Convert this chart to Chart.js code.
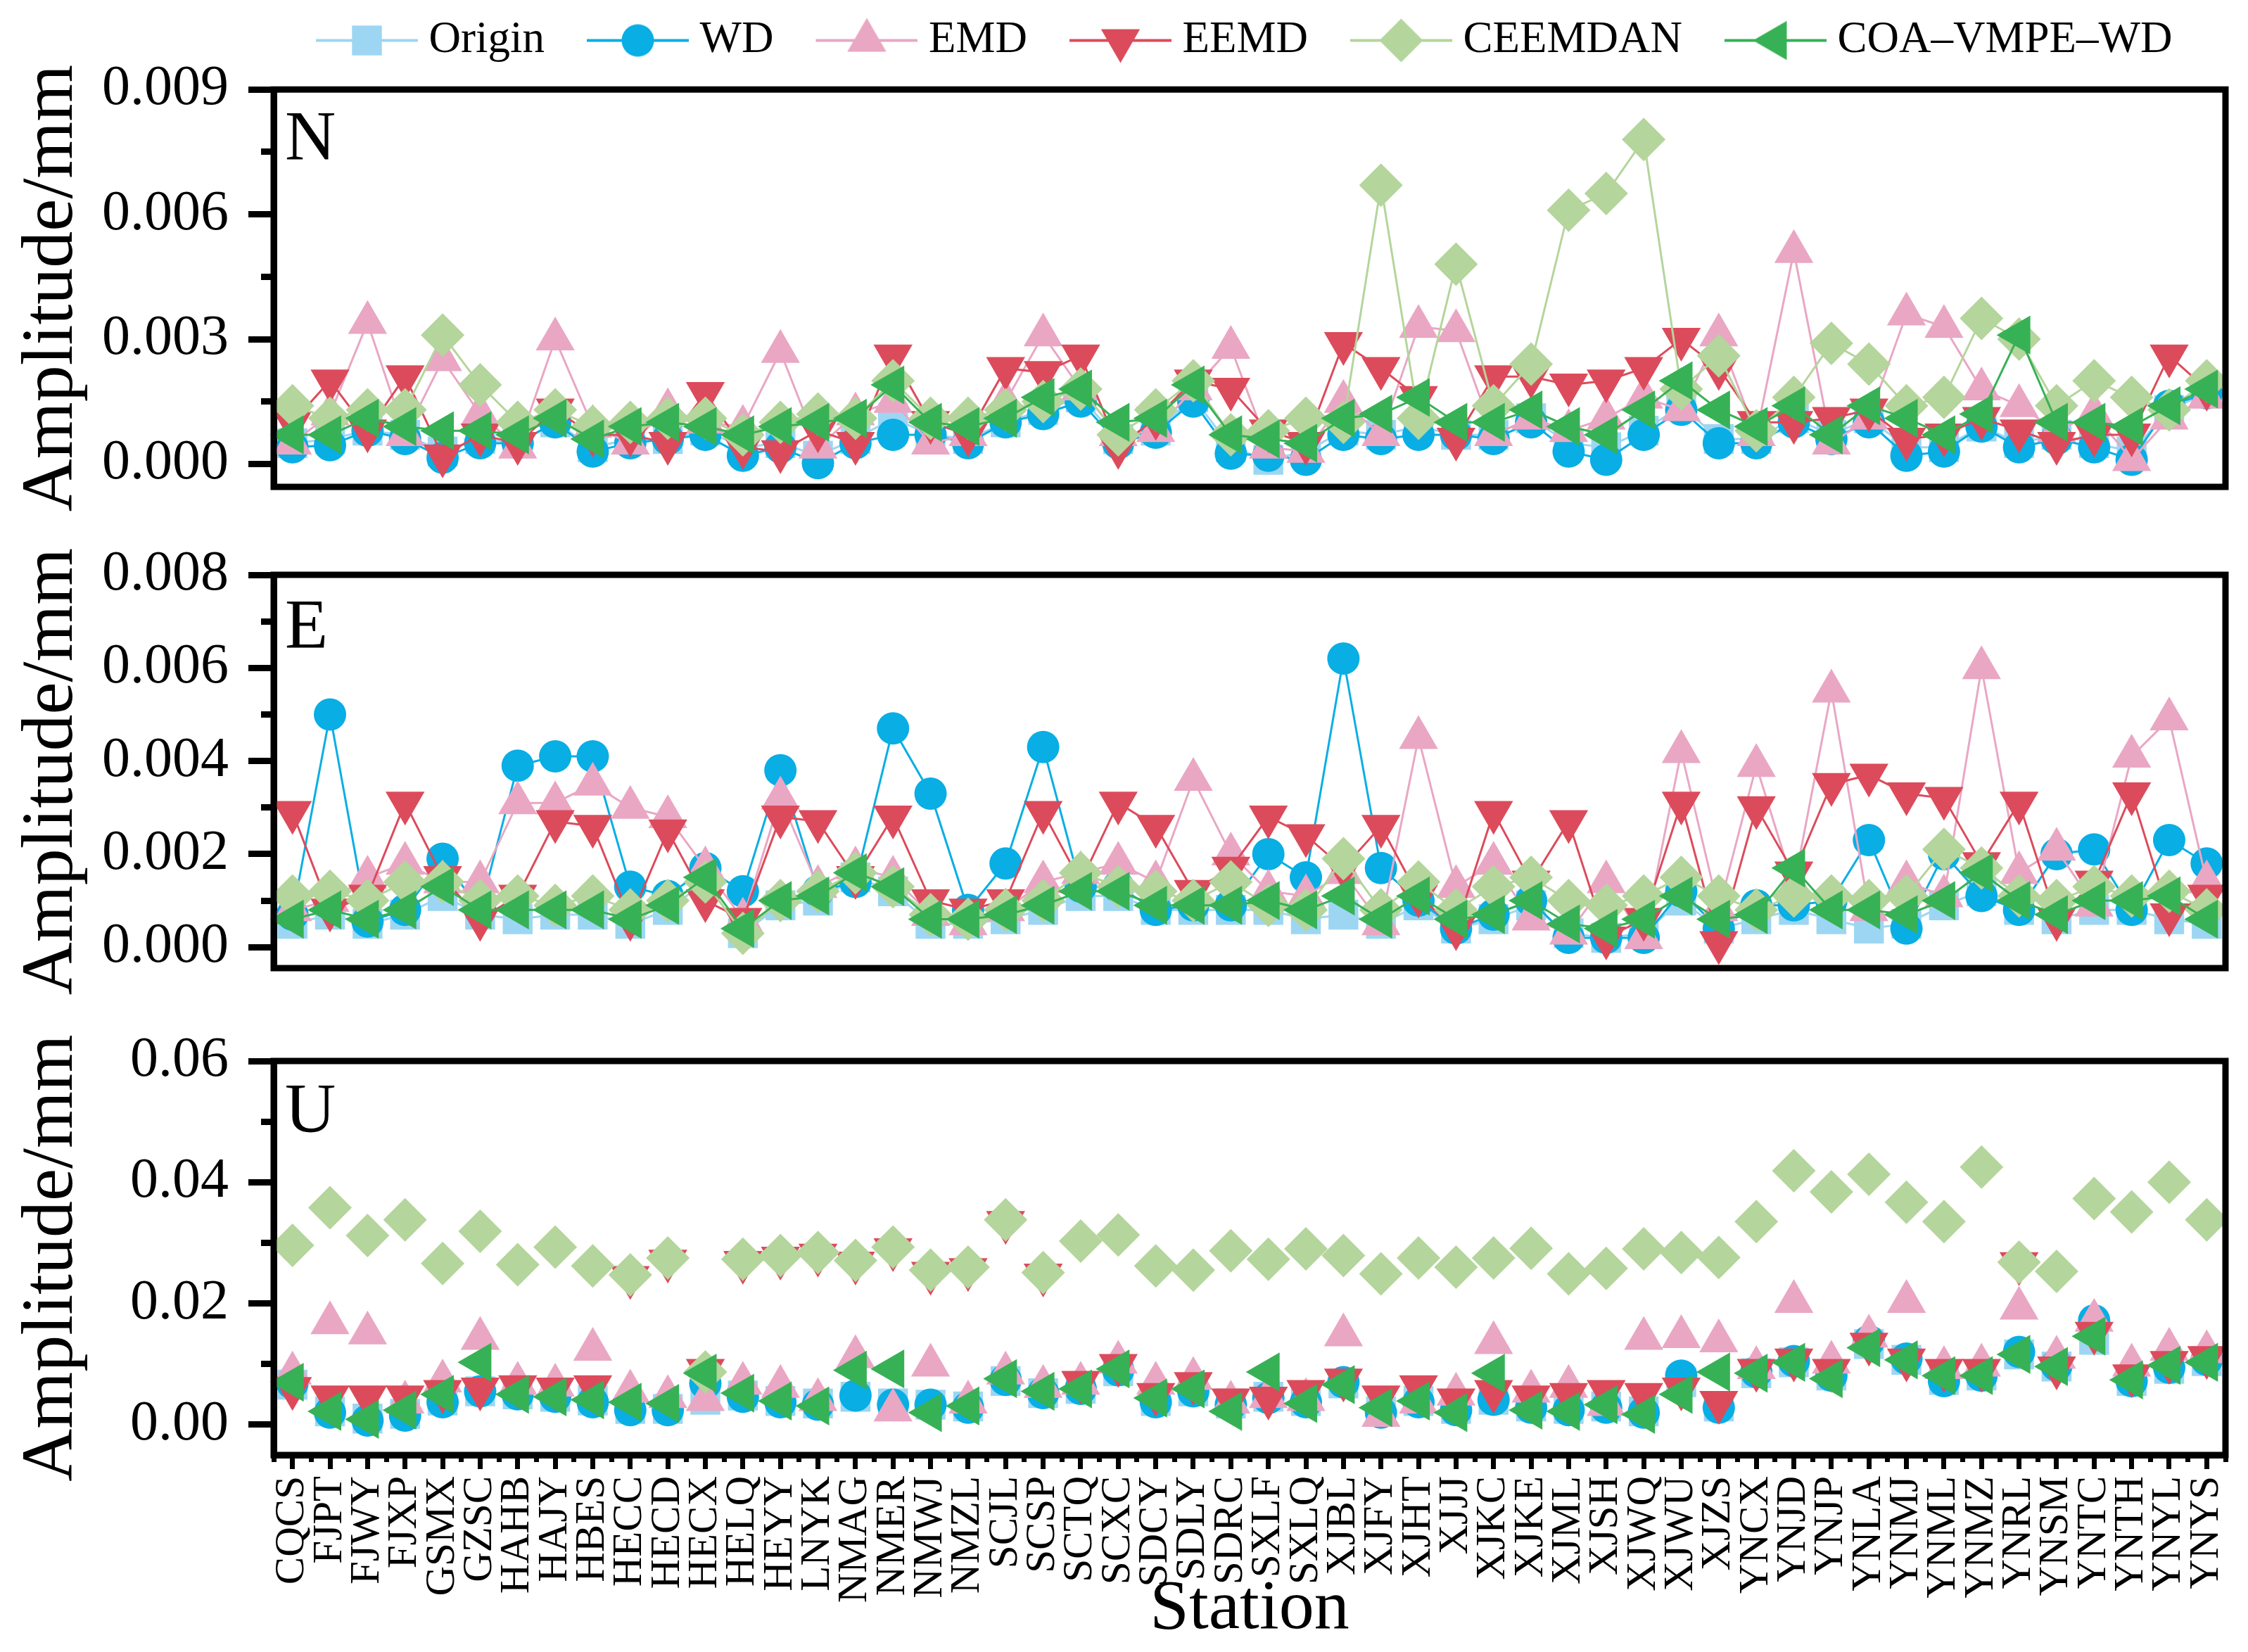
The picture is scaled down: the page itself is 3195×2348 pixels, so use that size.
<!DOCTYPE html>
<html>
<head>
<meta charset="utf-8">
<script src="https://cdn.jsdelivr.net/npm/chart.js@4.4.1/dist/chart.umd.min.js"></script>
<style>
  body { margin: 0; background: #fff; width: 3195px; height: 2348px; overflow: hidden; position: relative; }
  .panel { position: absolute; left: 0; }
  canvas { display: block; }
</style>
</head>
<body>
<div class="panel" style="top:0px"><canvas id="cN" width="3195" height="819"></canvas></div>
<div class="panel" style="top:690px"><canvas id="cE" width="3195" height="813"></canvas></div>
<div class="panel" style="top:1381px"><canvas id="cU" width="3195" height="967"></canvas></div>
<script>
// stations on the x axis
const stations = ['CQCS','FJPT','FJWY','FJXP','GSMX','GZSC','HAHB','HAJY','HBES','HECC','HECD','HECX','HELQ',
  'HEYY','LNYK','NMAG','NMER','NMWJ','NMZL','SCJL','SCSP','SCTQ','SCXC','SDCY','SDLY','SDRC','SXLF','SXLQ',
  'XJBL','XJFY','XJHT','XJJJ','XJKC','XJKE','XJML','XJSH','XJWQ','XJWU','XJZS','YNCX','YNJD','YNJP','YNLA',
  'YNMJ','YNML','YNMZ','YNRL','YNSM','YNTC','YNTH','YNYL','YNYS'];
const seriesNames = ['Origin', 'WD', 'EMD', 'EEMD', 'CEEMDAN', 'COA\u2013VMPE\u2013WD'];

// N component (mm)
const nOrigin = [.0005,.0006,.0008,.0007,.0003,.0006,.0005,.0010,.0004,.0006,.0006,.0008,.0004,.0005,.0002,.0006,.0011,.0007,.0006,.0010,.0013,.0016,.0006,.0008,.0016,.0004,.0001,.0003,.0008,.0007,.0009,.0007,.0007,.0011,.0005,.0004,.0008,.0014,.0006,.0006,.0011,.0007,.0011,.0004,.0004,.0009,.0005,.0007,.0005,.0003,.0013,.0017];
const nWD = [.0004,.00045,.0008,.0006,.00015,.0005,.0005,.0010,.0003,.0005,.0006,.0007,.0002,.0004,.00002,.0005,.0007,.0007,.0005,.0010,.0012,.0015,.0005,.00075,.0015,.00025,.0002,.0001,.0007,.0006,.0007,.0007,.0006,.0010,.0003,.0001,.0007,.0013,.0005,.0005,.0010,.0006,.0010,.0002,.0003,.0009,.0004,.0006,.0004,.0001,.0014,.0017];
const nEMD = [.0005,.0012,.0034,.0007,.0025,.0012,.0004,.0030,.0009,.0005,.0013,.0010,.0009,.0027,.0004,.0012,.0015,.0005,.0007,.0015,.0031,.0018,.0007,.0008,.0018,.0028,.0004,.0003,.0015,.0007,.0033,.0032,.0007,.0011,.0008,.0011,.0016,.0013,.0031,.0007,.0051,.0005,.0011,.0036,.0033,.0018,.0014,.0008,.0012,.0001,.0011,.0016];
const nEEMD = [.0010,.0020,.0008,.0021,.0002,.0007,.0005,.0013,.0007,.0007,.0005,.0017,.0004,.0003,.0008,.0005,.0026,.0010,.0007,.0023,.0022,.0026,.0004,.0011,.0020,.0018,.0008,.0005,.0029,.0023,.0016,.0006,.0021,.0021,.0019,.0020,.0023,.0030,.0023,.0010,.0010,.0011,.0013,.0006,.0007,.0011,.0008,.0005,.0007,.0007,.0026,.0018];
const nCEEMDAN = [.0014,.0011,.0013,.0013,.0031,.0019,.0010,.0013,.0009,.0010,.0011,.0011,.0007,.0010,.0012,.0011,.0020,.0011,.0011,.0013,.0015,.0018,.0007,.0013,.0020,.0007,.0008,.0011,.0010,.0067,.0011,.0048,.0014,.0024,.0061,.0065,.0078,.0018,.0026,.0008,.0016,.0029,.0024,.0014,.0016,.0035,.0030,.0014,.0020,.0016,.0013,.0020];
const nCOA = [.0007,.0007,.0011,.0009,.0008,.0008,.0007,.0011,.0006,.0009,.0010,.0009,.0007,.0009,.0010,.0011,.0019,.0010,.0009,.0011,.0016,.0018,.0010,.0011,.0019,.0007,.0006,.0005,.0011,.0012,.0016,.0010,.0010,.0013,.0009,.0007,.0013,.0020,.0013,.0009,.0014,.0007,.0014,.0011,.0007,.0012,.0031,.0010,.0010,.0009,.0014,.0018];

// E component (mm)
const eOrigin = [.0005,.0007,.0005,.0007,.0011,.0007,.0006,.0007,.0007,.0005,.0008,.0014,.0003,.0009,.0010,.0015,.0012,.0005,.0005,.0006,.0008,.0011,.0011,.0008,.0008,.0008,.0008,.0006,.0007,.0005,.0009,.0004,.0006,.0009,.0003,.0002,.0003,.0010,.0004,.0006,.0008,.0006,.0004,.0005,.0009,.0012,.0008,.0006,.0008,.0008,.0006,.0005];
const eWD = [.0007,.0050,.00055,.0008,.0019,.0008,.0039,.0041,.0041,.0013,.0011,.0017,.0012,.0038,.0012,.0014,.0047,.0033,.0008,.0018,.0043,.0013,.0013,.0008,.0009,.0009,.0020,.0015,.0062,.0017,.0010,.0004,.0007,.0010,.0002,.0002,.0002,.0012,.0004,.0009,.0009,.0010,.0023,.0004,.0020,.0011,.0008,.0020,.0021,.0008,.0023,.0018];
const eEMD = [.0008,.0010,.0015,.0018,.0014,.0014,.0031,.0031,.0035,.0030,.0028,.0017,.0006,.0032,.0013,.0017,.0015,.0007,.0005,.0008,.0014,.0016,.0018,.0014,.0036,.0020,.0012,.0011,.0016,.0005,.0045,.0013,.0018,.0006,.0003,.0014,.0002,.0042,.0008,.0039,.0013,.0055,.0008,.0014,.0011,.0060,.0016,.0021,.0009,.0041,.0049,.0014];
const eEEMD = [.0029,.0008,.0011,.0031,.0015,.0006,.0011,.0027,.0026,.0006,.0025,.0010,.0006,.0028,.0027,.0015,.0028,.0010,.0008,.0010,.0029,.0014,.0031,.0026,.0012,.0017,.0028,.0024,.0017,.0026,.0011,.0004,.0029,.0014,.0027,.0002,.0006,.0031,.0001,.0030,.0016,.0035,.0037,.0033,.0032,.0018,.0031,.0006,.0014,.0033,.0007,.0011];
const eCEEMDAN = [.0011,.0012,.0010,.0014,.0014,.0010,.0011,.0009,.0011,.0008,.0010,.0014,.0003,.0010,.0012,.0016,.0013,.0007,.0006,.0008,.0010,.0016,.0013,.0012,.0010,.0014,.0009,.0008,.0019,.0008,.0014,.0008,.0013,.0015,.0010,.0009,.0011,.0015,.0011,.0008,.0011,.0011,.0010,.0011,.0021,.0017,.0011,.0010,.0013,.0011,.0012,.0008];
const eCOA = [.0006,.0008,.0006,.0008,.0013,.0008,.0008,.0008,.0008,.0006,.0009,.0015,.0004,.0010,.0011,.0016,.0013,.0006,.0006,.0007,.0009,.0012,.0012,.0009,.0009,.0009,.0010,.0008,.0011,.0006,.0011,.0006,.0007,.0010,.0005,.0004,.0006,.0011,.0006,.0007,.0017,.0008,.0008,.0007,.0010,.0016,.0010,.0007,.0010,.0010,.0011,.0006];

// U component (mm)
const uOrigin = [.0066,.0022,.0010,.0018,.0040,.0055,.0050,.0046,.0040,.0026,.0026,.0041,.0048,.0039,.0035,.0046,.0035,.0033,.0030,.0072,.0052,.0059,.0088,.0039,.0055,.0035,.0046,.0039,.0068,.0022,.0039,.0026,.0041,.0030,.0026,.0030,.0022,.0070,.0030,.0085,.0103,.0081,.0133,.0107,.0074,.0081,.0116,.0096,.0140,.0072,.0092,.0105];
const uWD = [.0068,.0020,.0007,.0015,.0037,.0055,.0050,.0046,.0037,.0024,.0024,.0068,.0046,.0037,.0033,.0048,.0033,.0033,.0028,.0074,.0052,.0059,.0090,.0037,.0055,.0033,.0044,.0037,.0070,.0020,.0037,.0024,.0041,.0028,.0024,.0028,.0020,.0081,.0028,.0087,.0105,.0081,.0138,.0109,.0072,.0081,.0120,.0098,.0172,.0072,.0094,.0107];
const uEMD = [.0085,.0168,.0151,.0037,.0072,.0142,.0068,.0065,.0124,.0055,.0046,.0041,.0068,.0063,.0041,.0112,.0024,.0098,.0037,.0085,.0063,.0068,.0103,.0068,.0076,.0037,.0046,.0041,.0148,.0015,.0037,.0050,.0135,.0055,.0063,.0033,.0142,.0145,.0138,.0094,.0203,.0103,.0146,.0203,.0094,.0098,.0192,.0111,.0172,.0098,.0124,.0120];
const uEEMD = [.0060,.0046,.0046,.0046,.0055,.0059,.0063,.0059,.0063,.0243,.0270,.0090,.0268,.0275,.0280,.0267,.0289,.0250,.0256,.0334,.0247,.0070,.0098,.0050,.0068,.0041,.0044,.0055,.0074,.0046,.0063,.0041,.0055,.0046,.0050,.0055,.0050,.0059,.0037,.0090,.0107,.0090,.0133,.0107,.0090,.0090,.0266,.0094,.0151,.0081,.0103,.0111];
const uCEEMDAN = [.0296,.0358,.0312,.0338,.0266,.0319,.0264,.0293,.0262,.0247,.0275,.0087,.0273,.0279,.0284,.0271,.0293,.0255,.0260,.0338,.0251,.0303,.0313,.0262,.0255,.0287,.0273,.0290,.0279,.0249,.0275,.0260,.0275,.0291,.0249,.0258,.0290,.0284,.0276,.0335,.0419,.0384,.0413,.0367,.0335,.0425,.0268,.0253,.0373,.0351,.0400,.0338];
const uCOA = [.0070,.0022,.0009,.0024,.0050,.0103,.0050,.0046,.0041,.0037,.0035,.0085,.0052,.0039,.0031,.0090,.0092,.0020,.0031,.0076,.0055,.0059,.0092,.0044,.0059,.0022,.0087,.0035,.0066,.0028,.0039,.0020,.0085,.0024,.0022,.0033,.0017,.0050,.0087,.0085,.0103,.0076,.0127,.0107,.0081,.0081,.0116,.0096,.0146,.0074,.0098,.0103];

// y axis ticks (major labelled, minor unlabelled) and ranges
const nTicks = [0, 0.003, 0.006, 0.009];
const nMinor = [0.0015, 0.0045, 0.0075];
const eTicks = [0, 0.002, 0.004, 0.006, 0.008];
const eMinor = [0.001, 0.003, 0.005, 0.007];
const uTicks = [0, 0.02, 0.04, 0.06];
const uMinor = [0.01, 0.03, 0.05];
const nRange = [-0.00055, 0.009];
const eRange = [-0.00045, 0.008];
const uRange = [-0.005, 0.06];

const FONT = 'Liberation Serif';
Chart.defaults.font.family = FONT;
Chart.defaults.color = '#000';

const styles = [
  { color: '#9dd6f2', shape: 'rect',     rot: 0,   r: 30, order: 5 },
  { color: '#08aee4', shape: 'circle',   rot: 0,   r: 23, order: 4 },
  { color: '#e9a7c4', shape: 'triangle', rot: 0,   r: 32, order: 3 },
  { color: '#dc4b5b', shape: 'triangle', rot: 180, r: 32, order: 2 },
  { color: '#b4d59b', shape: 'rectRot',  rot: 0,   r: 31, order: 1 },
  { color: '#37b155', shape: 'triangle', rot: -90, r: 32, order: 0 }
];

function makeSets(arrs, showLine) {
  return arrs.map((d, i) => {
    const s = styles[i];
    return {
      label: seriesNames[i], data: d, order: s.order,
      borderColor: s.color, backgroundColor: s.color, borderWidth: showLine ? 3 : 0,
      showLine: showLine, tension: 0, clip: false,
      pointStyle: s.shape, pointRotation: s.rot, pointRadius: s.r, pointHoverRadius: s.r,
      pointBorderWidth: 0, pointBackgroundColor: s.color
    };
  });
}

// legend sample: short line with the marker in the middle
function legendIcon(s) {
  const cv = document.createElement('canvas');
  cv.width = 195; cv.height = 72;
  const ctx = cv.getContext('2d');
  ctx.strokeStyle = s.color; ctx.lineWidth = 4;
  ctx.beginPath(); ctx.moveTo(50, 36); ctx.lineTo(195, 36); ctx.stroke();
  ctx.fillStyle = s.color;
  Chart.helpers.drawPoint(ctx, { pointStyle: s.shape, rotation: s.rot, radius: s.r, borderWidth: 0 }, 122.5, 36);
  return cv;
}
const icons = styles.map(legendIcon);

function yScales(range, ticks, minor, dec, padTop) {
  return {
    y: {
      type: 'linear', position: 'left', weight: 1, min: range[0], max: range[1],
      afterBuildTicks: (s) => { s.ticks = ticks.map(v => ({ value: v })); },
      afterFit: (s) => { s.width = 389; s.paddingTop = padTop; s.paddingBottom = 127; },
      grid: { display: true, drawOnChartArea: false, drawTicks: true, tickLength: 36, tickWidth: 9, tickColor: '#000' },
      border: { display: true, width: 9, color: '#000' },
      ticks: { padding: 28, color: '#000', font: { size: 80 }, callback: (v) => Number(v).toFixed(dec) },
      title: { display: true, text: 'Amplitude/mm', color: '#000', font: { size: 104 }, padding: { top: 12, bottom: 0 } }
    },
    yMinor: {
      type: 'linear', position: 'left', weight: 0, min: range[0], max: range[1],
      afterBuildTicks: (s) => { s.ticks = minor.map(v => ({ value: v })); },
      afterFit: (s) => { s.width = 0; s.paddingTop = 0; s.paddingBottom = 0; },
      grid: { display: true, drawOnChartArea: false, drawTicks: true, tickLength: 18, tickWidth: 9, tickColor: '#000' },
      border: { display: false },
      ticks: { display: false }
    }
  };
}

const frame = {
  id: 'frame',
  afterDraw(chart, args, opts) {
    const { ctx, chartArea: a } = chart;
    ctx.save();
    ctx.strokeStyle = '#000'; ctx.lineWidth = 9;
    ctx.strokeRect(a.left, a.top, a.right - a.left, a.bottom - a.top);
    ctx.font = '100px "' + FONT + '"'; ctx.fillStyle = '#000'; ctx.textBaseline = 'alphabetic';
    ctx.fillText(opts.text, a.left + 16, a.top + opts.dy);
    ctx.restore();
  }
};

function makeChart(id, arrs, showLine, range, ticks, minor, dec, letter, dy, bottom, legend) {
  const scales = yScales(range, ticks, minor, dec, legend ? 100 : 127);
  if (bottom) {
    scales.x = {
      type: 'category', position: 'bottom', weight: 1, offset: true,
      afterFit: (s) => { s.height = 280; s.paddingLeft = 0; s.paddingRight = 0; },
      grid: { display: true, drawOnChartArea: false, drawTicks: true, tickLength: 20, tickWidth: 7, tickColor: '#000', offset: false },
      border: { display: true, width: 9, color: '#000' },
      ticks: { autoSkip: false, minRotation: 90, maxRotation: 90, padding: 10, color: '#000', font: { size: 59 } },
      title: { display: true, text: 'Station', color: '#000', font: { size: 100 }, padding: { top: 0, bottom: 0 } }
    };
    scales.xMinor = {
      type: 'category', position: 'bottom', weight: 0, offset: true,
      afterFit: (s) => { s.height = 0; s.paddingLeft = 0; s.paddingRight = 0; },
      grid: { display: true, drawOnChartArea: false, drawTicks: true, tickLength: 10, tickWidth: 7, tickColor: '#000', offset: true },
      border: { display: false },
      ticks: { display: false }
    };
  } else {
    scales.x = { type: 'category', offset: true, display: false };
  }
  return new Chart(document.getElementById(id), {
    type: 'line',
    data: { labels: stations, datasets: makeSets(arrs, showLine) },
    plugins: [frame],
    options: {
      responsive: false, animation: false, devicePixelRatio: 1, events: [],
      layout: { padding: { left: 0, right: 9, top: 0, bottom: 0 } },
      scales: scales,
      plugins: {
        frame: { text: letter, dy: dy },
        tooltip: { enabled: false },
        // empty spacer box between the legend and the plot
        title: legend ? { display: true, text: '', weight: 500, font: { size: 1 }, padding: { top: 27, bottom: 0 } } : { display: false },
        legend: legend ? {
          display: true, position: 'top', fullSize: false, align: 'start',
          labels: {
            usePointStyle: true, pointStyleWidth: 163, padding: 26, color: '#000', font: { size: 63 },
            sort: (a, b) => a.datasetIndex - b.datasetIndex,
            generateLabels: (chart) => chart.data.datasets.map((ds, i) => ({
              text: ds.label, pointStyle: icons[i], datasetIndex: i, hidden: false,
              fillStyle: ds.borderColor, strokeStyle: ds.borderColor, lineWidth: 0, fontColor: '#000'
            }))
          }
        } : { display: false }
      }
    }
  });
}

makeChart('cN', [nOrigin, nWD, nEMD, nEEMD, nCEEMDAN, nCOA], true, nRange, nTicks, nMinor, 3, 'N', 99, false, true);
makeChart('cE', [eOrigin, eWD, eEMD, eEEMD, eCEEMDAN, eCOA], true, eRange, eTicks, eMinor, 3, 'E', 103, false, false);
makeChart('cU', [uOrigin, uWD, uEMD, uEEMD, uCEEMDAN, uCOA], false, uRange, uTicks, uMinor, 2, 'U', 100, true, false);
</script>
</body>
</html>
